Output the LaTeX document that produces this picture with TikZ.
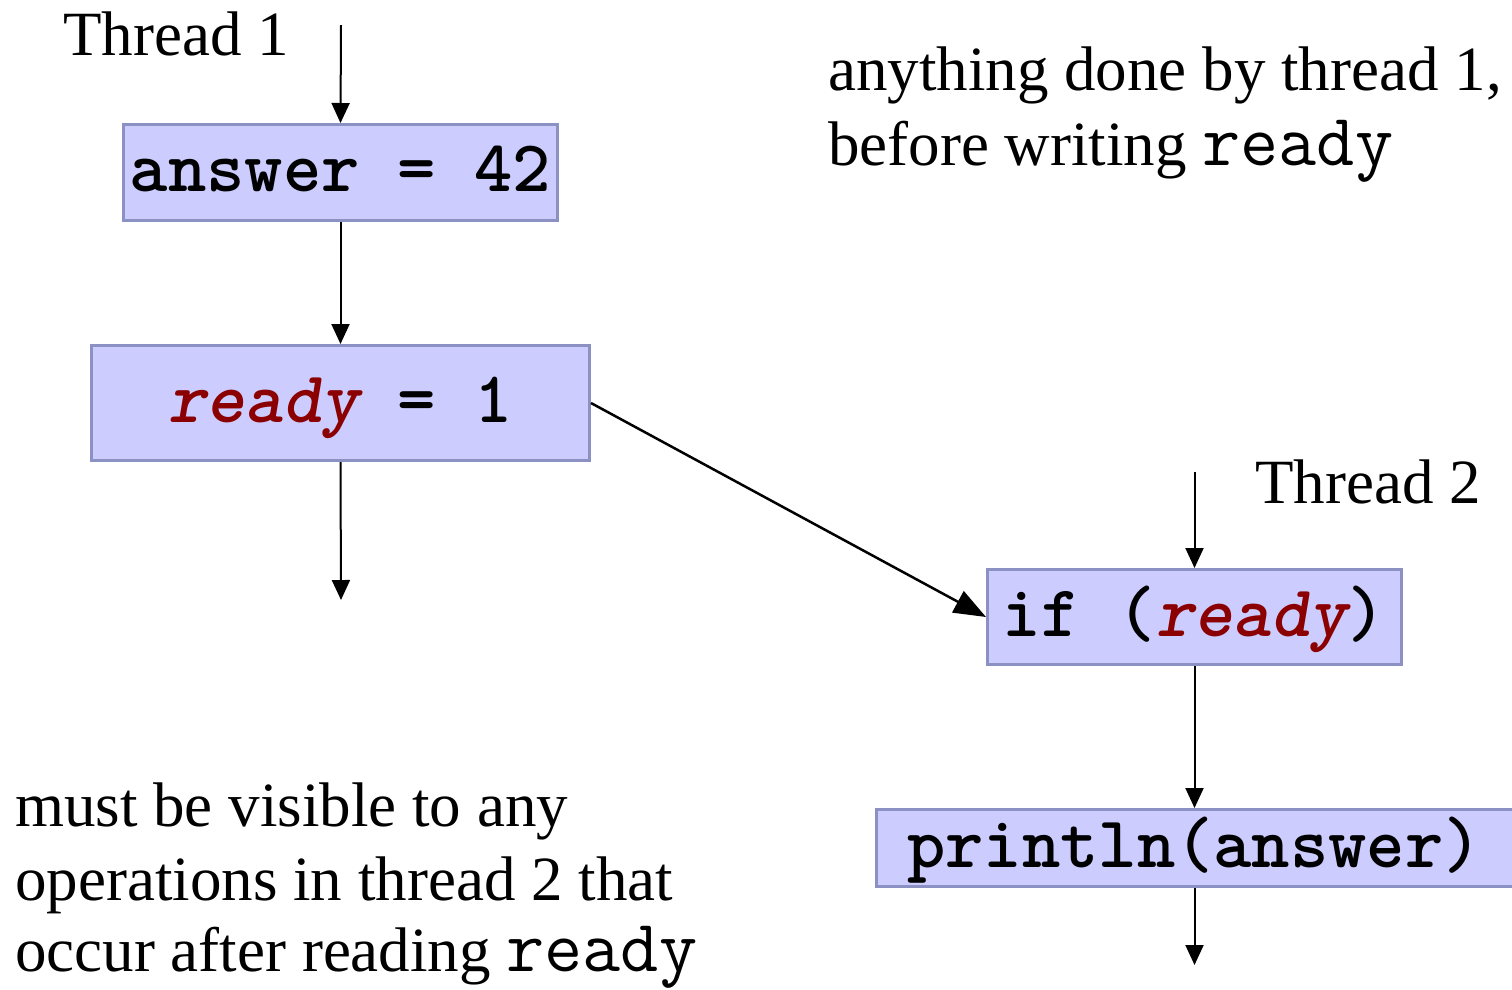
\documentclass[tikz,border=0pt]{standalone}
\usepackage{fontspec}
\setmainfont{Liberation Serif}
\usetikzlibrary{arrows.meta}
\definecolor{boxfill}{RGB}{204,204,255}
\definecolor{boxline}{RGB}{140,145,196}
\definecolor{kw}{RGB}{139,0,0}
\newcommand{\kwready}{\textcolor{kw}{\itshape ready}}
\newcommand{\codeready}{{\fontsize{74}{75}\selectfont\ttfamily ready}}
\begin{document}
\begin{tikzpicture}[x=1pt,y=-1pt,
  stmt/.style={draw=boxline, fill=boxfill, line width=3pt, inner sep=0pt,
    text height=38pt, text depth=0pt,
    font=\fontsize{73}{73}\selectfont\ttfamily\bfseries},
  flow/.style={line width=2pt, -{Triangle[length=20pt,width=18pt]}},
  bigflow/.style={line width=2.5pt, -{Triangle[length=32pt,width=24pt]}},
  prose/.style={anchor=base west, inner sep=0pt, font=\fontsize{63}{75}\selectfont}]
\useasboundingbox (0,0) rectangle (1512,989);

% statement boxes
\node[stmt, minimum width=434pt, minimum height=96pt] (ans) at (340.5,172.5) {answer = 42};
\node[stmt, minimum width=498pt, minimum height=115pt] (rdy) at (340.5,403) {\kwready{} = 1};
\node[stmt, minimum width=414pt, minimum height=95pt] (iff) at (1194.5,617) {if (\kwready)};
\node[stmt, minimum width=637pt, minimum height=77pt] (prn) at (1194.5,848) {println(answer)};

% free ends
\coordinate (t1start) at (341,25);
\coordinate (t1end) at (341,600);
\coordinate (t2start) at (1194.5,472);
\coordinate (t2end) at (1194.5,965);

% connectors
\draw[flow] (t1start) -- (ans.north);
\draw[flow] (ans.south) -- (rdy.north);
\draw[flow] (rdy.south) -- (t1end);
\draw[bigflow] (rdy.east) -- (iff.west);
\draw[flow] (t2start) -- (iff.north);
\draw[flow] (iff.south) -- (prn.north);
\draw[flow] (prn.south) -- (t2end);

% labels
\node[prose] (lt1) at (63,55) {Thread 1};
\node[prose] (lt2) at (1255,503) {Thread 2};
\node[prose] (na1) at (828,90) {anything done by thread 1,};
\node[prose] (na2) at (828,165) {before writing \codeready};
\node[prose] (nb1) at (15,826) {must be visible to any};
\node[prose] (nb2) at (15,900) {operations in thread 2 that};
\node[prose] (nb3) at (15,971) {occur after reading \codeready};
\end{tikzpicture}
\end{document}
